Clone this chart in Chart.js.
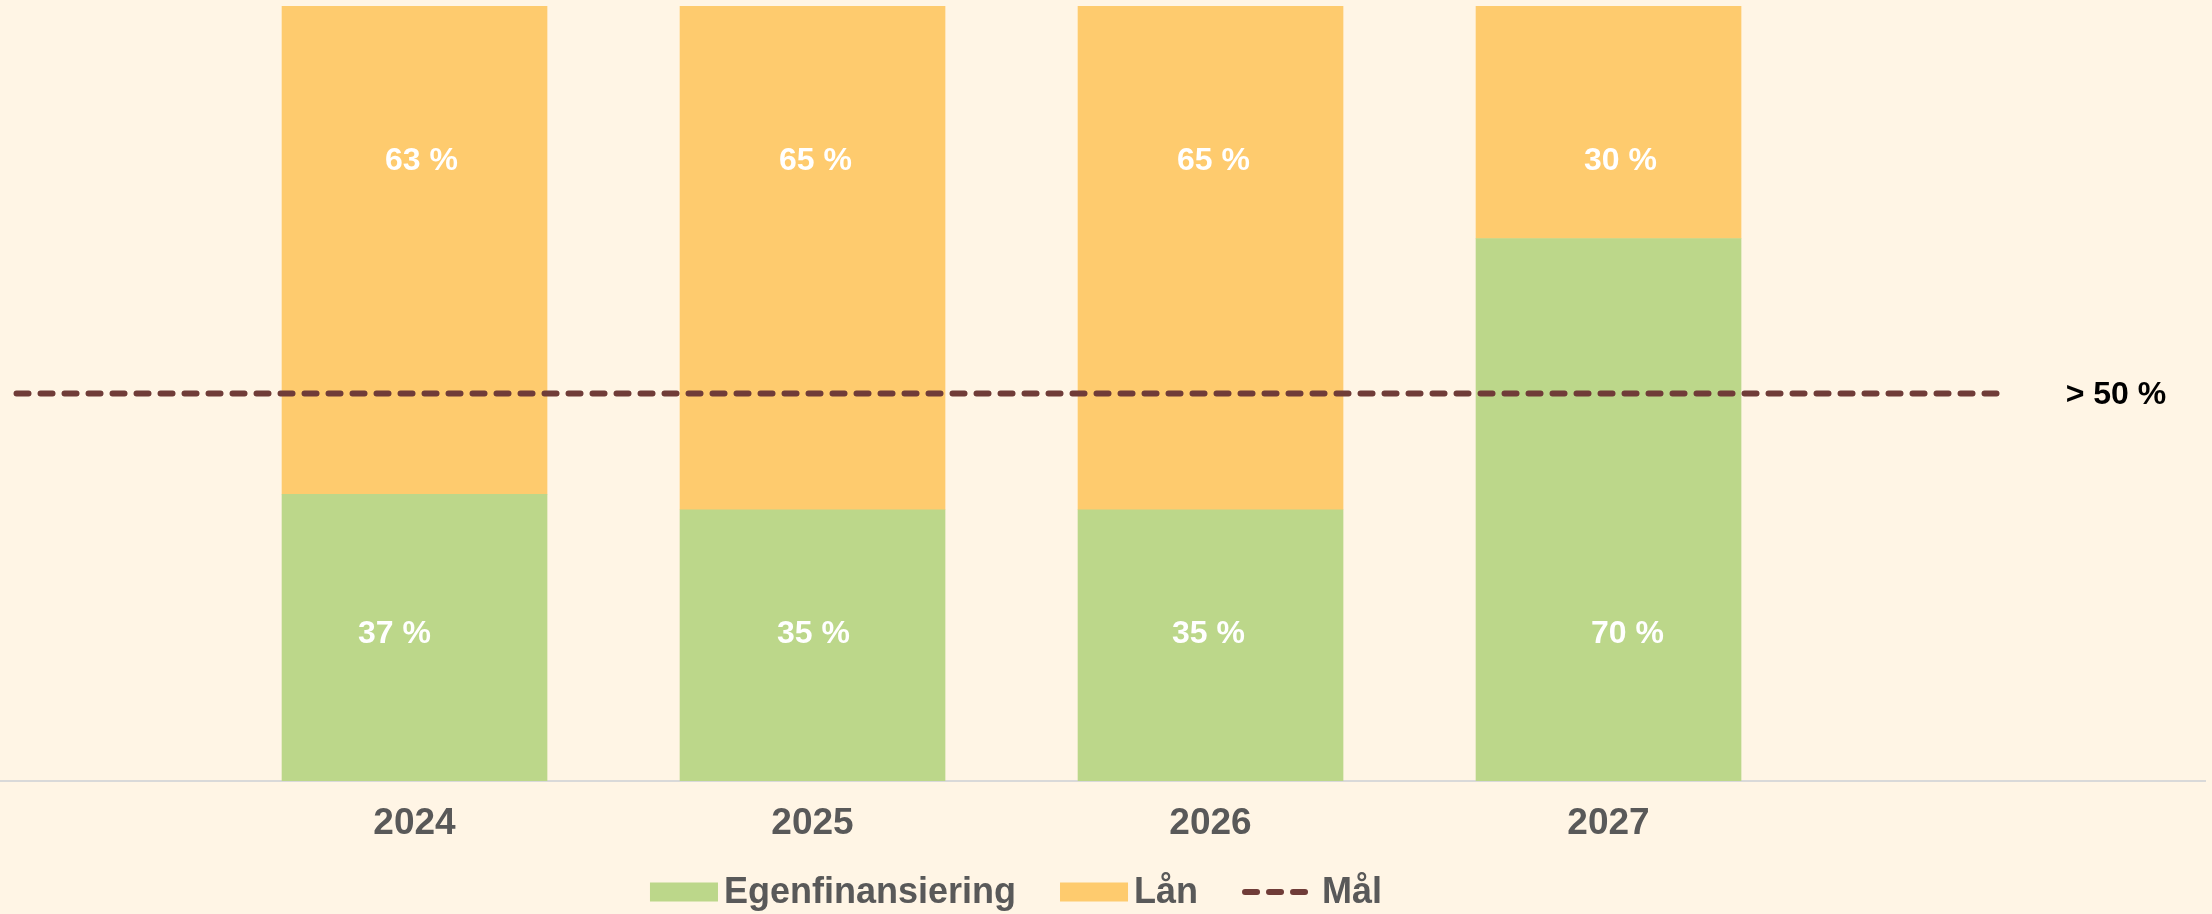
<!DOCTYPE html>
<html>
<head>
<meta charset="utf-8">
<script src="https://cdn.jsdelivr.net/npm/chart.js@4"></script>
<style>
  html, body { margin: 0; padding: 0; background: #FFF5E5; }
  #wrap { width: 2212px; height: 914px; }
</style>
</head>
<body>
<div id="wrap"><canvas id="finChart" width="2212" height="914"></canvas></div>
<script>
var years = ["2024", "2025", "2026", "2027"];
var egenfinansiering = [37, 35, 35, 70];
var laan = [63, 65, 65, 30];
var maal = 50;
var maalLabel = "> 50 %";

var FONT = '"Liberation Sans", Arial, sans-serif';
var GREEN = "#BCD78A";
var ORANGE = "#FECB6E";
var BROWN = "#703C38";

function points(values) {
  return values.map(function (v, i) { return { x: i, y: v }; });
}

// value labels inside the bars plus the target label at the right
var valueLabels = {
  id: "valueLabels",
  afterDatasetsDraw: function (chart, args, opts) {
    var ctx = chart.ctx, xs = chart.scales.x, ys = chart.scales.y;
    ctx.save();
    ctx.font = "bold 32px " + FONT;
    ctx.textAlign = "center";
    ctx.textBaseline = "middle";
    ctx.fillStyle = "#FFFFFF";
    opts.rows.forEach(function (row) {
      chart.data.datasets[row.dataset].data.forEach(function (pt, i) {
        ctx.fillText(pt.y + " %", xs.getPixelForValue(pt.x) + row.dx[i], ys.getPixelForValue(row.y));
      });
    });
    ctx.fillStyle = "#000000";
    ctx.fillText(maalLabel, xs.getPixelForValue(opts.targetX), ys.getPixelForValue(maal) + 2);
    ctx.restore();
  }
};

// legend drawn by hand so the dashed marker and spacing look like the original
var customLegend = {
  id: "customLegend",
  afterDraw: function (chart, args, opts) {
    var ctx = chart.ctx;
    ctx.save();
    ctx.font = "bold 36px " + FONT;
    ctx.textBaseline = "middle";
    var items = chart.data.datasets.map(function (ds) {
      return { label: ds.label, color: ds.type === "line" ? ds.borderColor : ds.backgroundColor, line: ds.type === "line" };
    });
    var total = 0;
    items.forEach(function (it, i) {
      it.w = 66 + (it.line ? 14 : 8) + ctx.measureText(it.label).width;
      total += it.w + (i ? 44 : 0);
    });
    var x = opts.centerX - total / 2, y = opts.centerY;
    items.forEach(function (it) {
      if (it.line) {
        ctx.strokeStyle = it.color;
        ctx.lineWidth = 6;
        ctx.lineCap = "round";
        ctx.setLineDash([12, 12]);
        ctx.beginPath();
        ctx.moveTo(x + 3, y);
        ctx.lineTo(x + 64, y);
        ctx.stroke();
        ctx.setLineDash([]);
      } else {
        ctx.fillStyle = it.color;
        ctx.fillRect(x, y - 9.5, 68, 19);
      }
      ctx.fillStyle = "#595959";
      ctx.fillText(it.label, x + 66 + (it.line ? 14 : 8), y + 1);
      x += it.w + 44;
    });
    ctx.restore();
  }
};

new Chart("finChart", {
  type: "bar",
  data: {
    datasets: [
      {
        label: "Egenfinansiering",
        stack: "finans",
        order: 1,
        data: points(egenfinansiering),
        backgroundColor: GREEN,
        barThickness: 265
      },
      {
        label: "Lån",
        stack: "finans",
        order: 1,
        data: points(laan),
        backgroundColor: ORANGE,
        barThickness: 265
      },
      {
        type: "line",
        label: "Mål",
        stack: "goal",
        order: 0,
        data: [{ x: -1, y: maal }, { x: years.length, y: maal }],
        borderColor: BROWN,
        borderWidth: 6,
        borderDash: [12, 12],
        borderCapStyle: "round",
        pointRadius: 0,
        fill: false
      }
    ]
  },
  options: {
    responsive: false,
    animation: false,
    layout: { padding: { top: 6, right: 7, left: 0, bottom: 0 } },
    plugins: {
      legend: { display: false },
      tooltip: { enabled: false },
      valueLabels: {
        targetX: 4.275,
        rows: [
          { dataset: 0, y: 19, dx: [-20, 1, -2, 19] },
          { dataset: 1, y: 80, dx: [7, 3, 3, 12] }
        ]
      },
      customLegend: { centerX: 1016, centerY: 892 }
    },
    scales: {
      x: {
        type: "linear",
        min: -1.0415,
        max: 4.4987,
        offset: false,
        bounds: "data",
        grid: { display: false, drawTicks: false, offset: false },
        border: { display: true, color: "#D9D9D9", width: 2 },
        ticks: {
          padding: 21,
          color: "#595959",
          font: { family: FONT, size: 37, weight: "bold" },
          callback: function (v) { return years[v] || ""; }
        },
        afterBuildTicks: function (scale) {
          scale.ticks = years.map(function (y, i) { return { value: i }; });
        },
        afterFit: function (scale) { scale.height = 133; }
      },
      y: {
        display: false,
        stacked: true,
        min: 0,
        max: 100
      }
    }
  },
  plugins: [valueLabels, customLegend]
});
</script>
</body>
</html>
